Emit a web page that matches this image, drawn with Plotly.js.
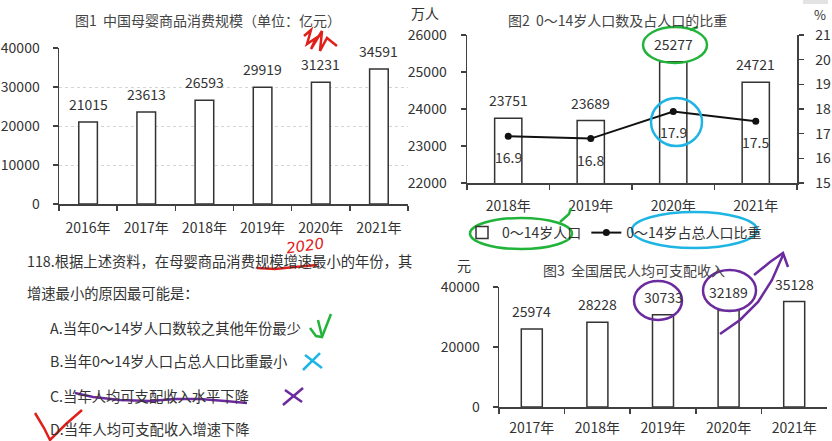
<!DOCTYPE html>
<html><head><meta charset="utf-8">
<script src="https://cdn.plot.ly/plotly-3.0.1.min.js"></script>
<style>html,body{margin:0;padding:0;background:#fff;}#chart{width:832px;height:441px;}</style>
</head><body><div id="chart"></div>
<script>
// ---- data ----
const years1 = ['2016年','2017年','2018年','2019年','2020年','2021年'];
const consumption = [21015,23613,26593,29919,31231,34591];
const years2 = ['2018年','2019年','2020年','2021年'];
const children = [23751,23689,25277,24721];
const childShare = [16.9,16.8,17.9,17.5];
const years3 = ['2017年','2018年','2019年','2020年','2021年'];
const income = [25974,28228,30733,32189,35128];
const question = ['118.根据上述资料，在母婴商品消费规模增速最小的年份，其','增速最小的原因最可能是：'];
const options = ['A.当年0～14岁人口数较之其他年份最少','B.当年0～14岁人口占总人口比重最小','C.当年人均可支配收入水平下降','D.当年人均可支配收入增速下降'];

// ---- helpers ----
const W = 832, H = 441;
const F = '"Noto Sans CJK SC","Noto Sans",sans-serif';
const TXT = '#333';
const px = x => x / W;
const py = y => 1 - y / H;

const axBase = {showline:true, linecolor:'#404040', linewidth:1.5, ticks:'outside', ticklen:5,
  tickcolor:'#404040', tickwidth:1.5, tickfont:{size:14,color:TXT,family:F}, zeroline:false,
  showgrid:false, fixedrange:true, tickformat:'d'};

const barStyle = {color:'#fff', line:{color:'#333', width:1.5}};

const traces = [
  {type:'bar', x:years1, y:consumption, xaxis:'x', yaxis:'y', width:0.32, marker:barStyle, showlegend:false, hoverinfo:'skip'},
  {type:'bar', x:years2, y:children, xaxis:'x2', yaxis:'y2', width:0.33, marker:barStyle, name:'0～14岁人口', hoverinfo:'skip'},
  {type:'scatter', mode:'lines+markers', x:years2, y:childShare, xaxis:'x2', yaxis:'y3',
    line:{color:'#111', width:2}, marker:{color:'#111', size:7}, name:'0～14岁占总人口比重', hoverinfo:'skip'},
  {type:'bar', x:years3, y:income, xaxis:'x3', yaxis:'y4', width:0.32, marker:barStyle, showlegend:false, hoverinfo:'skip'}
];

const annotations = [];
const lab = (xr, yr, xs, ys, shift, anchor) => xs.forEach((x, i) => annotations.push({
  xref:xr, yref:yr, x:x, y:ys[i], text:String(ys[i]), showarrow:false, yanchor:anchor, yshift:shift,
  font:{size:14, color:TXT, family:F}}));
lab('x','y',years1,consumption,6,'bottom');
lab('x2','y2',years2,children,6,'bottom');
lab('x2','y3',years2,childShare,-9,'top');
lab('x3','y4',years3,income,6,'bottom');

const txt = (x, y, t, o) => annotations.push(Object.assign({xref:'paper', yref:'paper', x:px(x), y:py(y),
  text:t, showarrow:false, xanchor:'left', yanchor:'middle', font:{size:14, color:TXT, family:F}}, o || {}));
txt(73, 20, '图1  中国母婴商品消费规模（单位：亿元）', {font:{size:14,color:'#444',family:F}});
txt(506, 20, '图2  0～14岁人口数及占人口的比重', {font:{size:14,color:'#444',family:F}});
txt(541, 270, '图3  全国居民人均可支配收入', {font:{size:14,color:'#444',family:F}});
txt(409, 13, '万人');
txt(812, 14, '%', {font:{size:13,color:TXT,family:F}});
txt(455, 265, '元');
txt(25, 260, question[0], {font:{size:14.3,color:TXT,family:F}});
txt(25, 292, question[1], {font:{size:14.3,color:TXT,family:F}});
[327, 360, 395, 428].forEach((y, i) => txt(48, y, options[i], {font:{size:14.3,color:TXT,family:F}}));
// handwritten "2020"
annotations.push({xref:'paper', yref:'paper', x:px(305), y:py(246), text:'<i>2020</i>', showarrow:false,
  textangle:-8, font:{size:15, color:'#e0201a', family:'DejaVu Sans'}});

// handwriting strokes (decoration)
const path = pts => pts.map((p, i) => (i ? 'L' : 'M') + px(p[0]).toFixed(4) + ',' + py(p[1]).toFixed(4)).join(' ');
const stroke = (pts, color, w) => ({type:'path', xref:'paper', yref:'paper', path:path(pts), line:{color:color, width:w || 2.5}, layer:'above'});
const ell = (x0, y0, x1, y1, color) => ({type:'circle', xref:'paper', yref:'paper', x0:px(x0), x1:px(x1), y0:py(y1), y1:py(y0), line:{color:color, width:2.5}, layer:'above'});
const RED = '#e0201a', GRN = '#22b43a', CYA = '#1eb4e4', PUR = '#6b2a9e';
const shapes = [
  {type:'rect', xref:'paper', yref:'paper', x0:px(803), x1:px(828), y0:py(4), y1:py(0), fillcolor:'#e3e3e3', line:{width:0}},
  stroke([[304,36],[311,30],[307,44],[316,38],[311,49],[322,31],[320,51],[327,38],[337,46]], RED),
  stroke([[257,268],[275,269],[295,267],[317,265]], RED),
  ell(643, 27, 707, 63, GRN),
  stroke([[690,30],[698,27]], GRN),
  ell(651, 98, 702, 146, CYA),
  ell(470, 218, 572, 249, GRN),
  stroke([[560,222],[569,214],[571,208]], GRN),
  ell(632, 212, 757, 248, CYA),
  stroke([[310,328],[316,336],[322,337],[331,314]], GRN),
  stroke([[318,320],[322,336]], GRN),
  stroke([[305,355],[322,368]], CYA),
  stroke([[320,353],[303,370]], CYA),
  stroke([[75,393],[93,397],[120,400],[150,401],[175,399],[200,399],[225,401],[247,403]], PUR),
  stroke([[285,390],[302,402]], PUR),
  stroke([[303,388],[283,405]], PUR),
  stroke([[35,413],[44,428],[50,440],[66,424],[82,410]], RED),
  ell(634, 281, 682, 320, PUR),
  ell(703, 270, 756, 311, PUR),
  stroke([[720,334],[740,320],[758,302],[772,280],[783,255]], PUR),
  stroke([[754,275],[770,262],[783,253],[788,267]], PUR)
];

const layout = {
  width:W, height:H, margin:{l:0,r:0,t:0,b:0}, paper_bgcolor:'#fff', plot_bgcolor:'rgba(0,0,0,0)',
  font:{family:F, color:TXT, size:14}, bargap:0.5,
  xaxis:Object.assign({}, axBase, {domain:[px(59),px(408)], anchor:'y', type:'category', tickson:'boundaries', ticklabelstandoff:11}),
  yaxis:Object.assign({}, axBase, {domain:[py(204),py(48)], anchor:'x', range:[0,40000], dtick:10000, showgrid:true, gridcolor:'#d4d4d4', griddash:'dot', gridwidth:1, ticklabelstandoff:10}),
  xaxis2:Object.assign({}, axBase, {domain:[px(467),px(797)], anchor:'y2', type:'category', tickson:'boundaries', ticklabelstandoff:10}),
  yaxis2:Object.assign({}, axBase, {domain:[py(183),py(35)], anchor:'x2', range:[22000,26000], dtick:1000, ticklabelstandoff:11}),
  yaxis3:Object.assign({}, axBase, {overlaying:'y2', side:'right', anchor:'x2', range:[15,21], dtick:1, ticklabelstandoff:9}),
  xaxis3:Object.assign({}, axBase, {domain:[px(499),px(827)], anchor:'y4', type:'category', tickson:'boundaries', ticklabelstandoff:8}),
  yaxis4:Object.assign({}, axBase, {domain:[py(407),py(287)], anchor:'x3', range:[0,40000], dtick:20000, ticklabelstandoff:10}),
  showlegend:true,
  legend:{orientation:'h', x:px(462), y:py(233), xanchor:'left', yanchor:'middle', bgcolor:'rgba(0,0,0,0)', font:{size:14, color:TXT, family:F}},
  annotations:annotations, shapes:shapes
};
Plotly.newPlot('chart', traces, layout, {staticPlot:true, displayModeBar:false});
</script></body></html>
